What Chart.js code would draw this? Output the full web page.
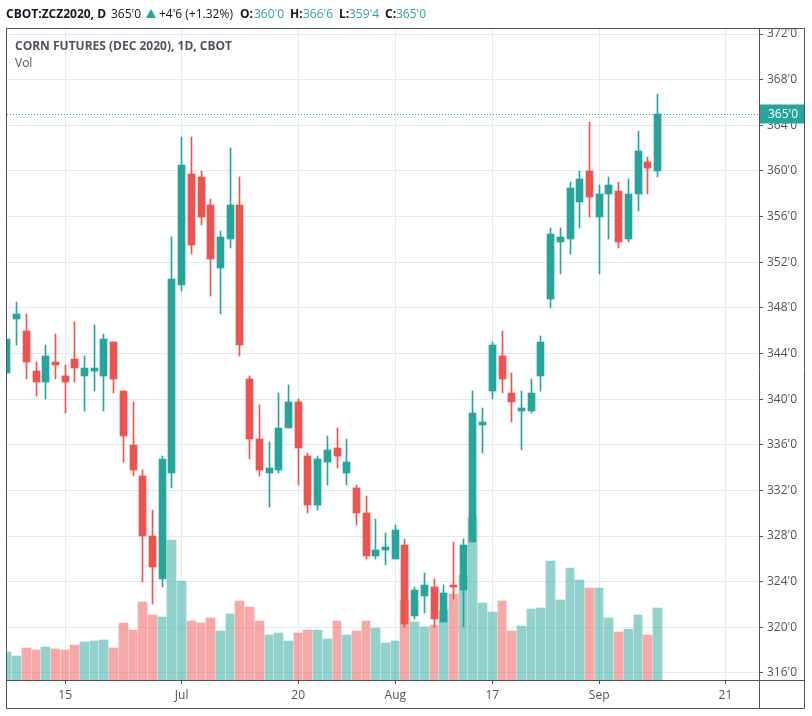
<!DOCTYPE html>
<html lang="en">
<head>
  <meta charset="UTF-8" />
  <title>Corn Futures (Dec 2020)</title>
  <script src="https://cdn.jsdelivr.net/npm/chart.js"></script>
  <style>
    html, body { margin: 0; padding: 0; background: #fff; width: 812px; height: 716px; overflow: hidden; }
    body { position: relative; font-family: "Open Sans", "Noto Sans", sans-serif; color: #131722; }
    canvas { position: absolute; left: 0; top: 0; }
    .txt { position: absolute; white-space: nowrap; font-size: 12px; line-height: 16px; }
    .b { font-weight: 700; }
    .up { color: #26a69a; }
    .leg { color: #50535e; }
    .tri { position: absolute; left: 146px; top: 9px; width: 0; height: 0; border-left: 5px solid transparent; border-right: 5px solid transparent; border-bottom: 9px solid #26a69a; }
  </style>
</head>
<body>
  <canvas id="chart" width="812" height="716"></canvas>
  <div class="txt b" style="left:6px;top:6px">CBOT:ZCZ2020, D</div>
  <div class="txt" style="left:111px;top:6px">365'0</div>
  <div class="tri"></div>
  <div class="txt" style="left:159px;top:6px">+4'6 (+1.32%)</div>
  <div class="txt b" style="left:240px;top:6px">O:</div>
  <div class="txt up" style="left:254px;top:6px">360'0</div>
  <div class="txt b" style="left:290px;top:6px">H:</div>
  <div class="txt up" style="left:303px;top:6px">366'6</div>
  <div class="txt b" style="left:339px;top:6px">L:</div>
  <div class="txt up" style="left:349px;top:6px">359'4</div>
  <div class="txt b" style="left:385px;top:6px">C:</div>
  <div class="txt up" style="left:396px;top:6px">365'0</div>
  <div class="txt b leg" style="left:15px;top:38px">CORN FUTURES (DEC 2020), 1D, CBOT</div>
  <div class="txt leg" style="left:15px;top:55px">Vol</div>

  <script>
    const opens = [342.25,347,346,342.5,341.5,343.25,342,343.5,342,342.5,342,345,340.75,336,333.25,328,324.25,333.5,350,359.75,359.5,357,351.5,354,357,341.75,336.5,333.5,333.75,337.5,339.75,335,330.75,334.5,335.75,333.5,332.25,330,326.25,326.75,326,327.25,321,322.75,323.5,320.5,323.75,323.25,327.5,337.75,340.75,343.75,340.5,339,339,342,348.75,353.75,354,357.25,360,356,358,358.25,354,358,360.75,360];
    const highs = [345.25,348.5,347.5,343.25,344.75,345.75,343,346.75,343.75,346.5,345.75,345,340.75,339.75,333.75,330.25,335,354.25,363,363,360,357.5,354.75,362,359.5,342,339.5,336.25,340.5,341.25,340,335.25,335,336.75,337.5,336.5,332.5,331.5,329.5,328.25,329,327.75,323.5,324.75,324.25,323.75,327.5,327.75,340.75,339.25,345,346,342.25,340.75,341.75,345.5,355,355,359,360,364.25,358.75,359.5,359,359.25,363.5,361.25,366.75];
    const lows = [342.25,344.75,341.75,340.25,340,341.75,338.75,341.5,339,340.75,339,340.5,334.5,333.25,324,322,323.5,332.25,349.5,352.75,355.25,349,347.5,353.25,343.75,334.75,333.25,330.5,333.5,337.5,332.5,330,330.25,332.5,334,332.5,329,326,326,325.5,326,320,320.75,321.25,320,320.5,322.5,320,327.5,335.25,340,340.5,338,335.5,338.75,340.75,348,351,352.75,355,356,351,354,353.25,353.75,356.5,358,359.5];
    const closes = [345.25,347.5,343.25,341.5,343.75,343,341.5,342.75,342.75,342.75,345.25,341.75,336.75,333.75,328,325.25,334.75,350.5,360.5,353.5,356,352.25,354.25,357,344.75,336.5,333.75,334,337.5,339.75,335.75,330.75,334.75,335.5,335,334.5,330,326.25,326.75,327,328.5,320.25,323.25,323.75,320.75,323,323.5,327.25,338.75,338,344.75,341.75,339.75,339.25,340.5,345,354.5,354.25,358.5,359.25,357.75,358,358.75,353.75,358,361.75,360.25,365];
    const volumes = [28000,24000,32000,30000,33000,31000,30000,35000,38000,39000,40000,32000,57000,50000,78000,65000,63000,140000,99000,59000,57000,62000,49000,66000,79000,73000,59000,45000,47000,39000,47000,50000,50000,41000,59000,45000,49000,59000,52000,37000,39000,80000,58000,53000,55000,70000,86000,105000,163000,77000,68000,79000,49000,54000,71000,72000,119000,80000,112000,100000,92000,92000,62000,48000,51000,65000,45000,72000];
    const xTickIndex = [6,18,30,40,50,61,74];
    const xTickLabels = ["15","Jul","20","Aug","17","Sep","21"];
    const priceTicks = [316,320,324,328,332,336,340,344,348,352,356,360,364,368,372];

    const UP = "#26a69a", DOWN = "#ef5350";
    const UP_VOL = "rgba(38,166,154,0.5)", DOWN_VOL = "rgba(239,83,80,0.5)";
    const GRID = "#e1ecf2", FRAME = "#50535e", TEXT = "#50535e";
    const FONT = '"Open Sans", "Noto Sans", sans-serif';
    const isUp = opens.map((o, i) => closes[i] >= o);
    const lastClose = closes[closes.length - 1];
    const fmtPrice = v => v + "'0";

    // keep bars on whole pixels like the original chart does
    const snapBars = {
      id: "snapBars",
      afterDatasetsUpdate(chart) {
        chart.data.datasets.forEach((ds, d) => {
          const els = chart.getDatasetMeta(d).data;
          const left = els.map(el => Math.floor(el.x) - 4);
          els.forEach((el, i) => {
            if (ds.label === "Vol") {
              const w = i + 1 < els.length ? left[i + 1] - 1 - left[i] : 9;
              el.width = w;
              el.x = left[i] + w / 2;
            } else {
              el.x = Math.floor(el.x) + 0.5;
            }
            el.y = Math.round(el.y);
            el.base = Math.round(el.base);
          });
        });
      }
    };

    // frame, last price dotted line and the price tag on the axis
    const decorations = {
      id: "decorations",
      afterDraw(chart) {
        const { ctx, chartArea: a, scales } = chart;
        const y = Math.round(scales.y.getPixelForValue(lastClose)) + 0.5;
        ctx.save();
        ctx.strokeStyle = UP;
        ctx.lineWidth = 1;
        ctx.setLineDash([1, 2]);
        ctx.beginPath();
        ctx.moveTo(a.left, y);
        ctx.lineTo(a.right, y);
        ctx.stroke();
        ctx.setLineDash([]);

        ctx.strokeStyle = FRAME;
        ctx.beginPath();
        ctx.rect(6.5, 28.5, 798, 680);
        ctx.moveTo(759.5, 28.5);
        ctx.lineTo(759.5, 708.5);
        ctx.moveTo(6.5, 680.5);
        ctx.lineTo(804.5, 680.5);
        ctx.stroke();

        ctx.fillStyle = UP;
        ctx.fillRect(760, y - 10, 44, 19);
        ctx.fillStyle = "#fff";
        ctx.font = "12px " + FONT;
        ctx.textBaseline = "middle";
        ctx.textAlign = "left";
        ctx.fillText(fmtPrice(lastClose), 768, y);
        ctx.restore();
      }
    };

    new Chart(document.getElementById("chart"), {
      type: "bar",
      data: {
        datasets: [
          {
            label: "Vol",
            yAxisID: "vol",
            order: 3,
            barThickness: 9,
            data: volumes.map((v, i) => ({ x: i, y: v })),
            backgroundColor: isUp.map(u => u ? UP_VOL : DOWN_VOL)
          },
          {
            label: "Wick",
            yAxisID: "y",
            order: 2,
            barThickness: 1,
            data: highs.map((h, i) => ({ x: i, y: [lows[i], h] })),
            backgroundColor: isUp.map(u => u ? UP : DOWN)
          },
          {
            label: "Body",
            yAxisID: "y",
            order: 1,
            barThickness: 7,
            data: opens.map((o, i) => ({ x: i, y: [o, closes[i]] })),
            backgroundColor: isUp.map(u => u ? UP : DOWN)
          }
        ]
      },
      options: {
        responsive: false,
        animation: false,
        devicePixelRatio: 1,
        grouped: false,
        layout: { padding: { left: 7, top: 29, right: 7, bottom: 7 } },
        plugins: { legend: { display: false }, tooltip: { enabled: false } },
        scales: {
          x: {
            type: "linear",
            offset: false,
            min: 0.011,
            max: 77.46,
            afterBuildTicks: axis => { axis.ticks = xTickIndex.map(v => ({ value: v })); },
            afterFit: axis => { axis.height = 29; },
            border: { display: false },
            grid: { color: GRID, tickColor: FRAME, tickLength: 4, offset: false },
            ticks: {
              autoSkip: false,
              maxRotation: 0,
              padding: 4,
              color: TEXT,
              font: { family: FONT, size: 12 },
              callback: v => xTickLabels[xTickIndex.indexOf(v)]
            }
          },
          y: {
            position: "right",
            min: 315.38,
            max: 372.44,
            afterBuildTicks: axis => { axis.ticks = priceTicks.map(v => ({ value: v })); },
            afterFit: axis => { axis.width = 46; },
            border: { display: false },
            grid: { color: GRID, tickColor: FRAME, tickLength: 4 },
            ticks: {
              autoSkip: false,
              padding: 4,
              color: TEXT,
              font: { family: FONT, size: 12 },
              callback: fmtPrice
            }
          },
          vol: {
            display: false,
            min: 0,
            max: 651000
          }
        }
      },
      plugins: [snapBars, decorations]
    });
  </script>
</body>
</html>
